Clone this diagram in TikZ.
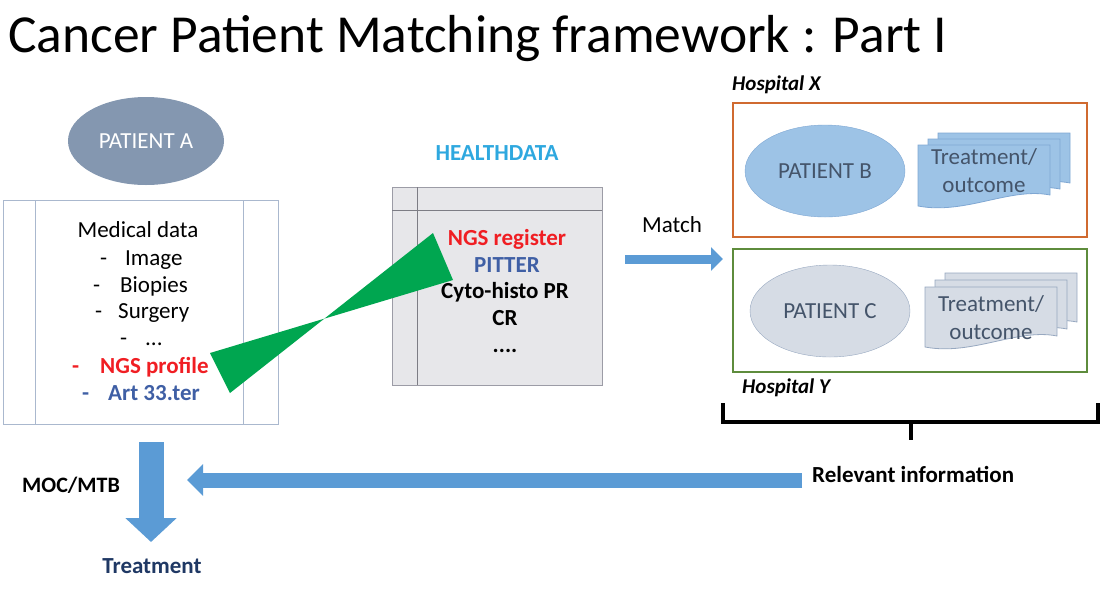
\documentclass[tikz,border=0pt]{standalone}
\usepackage{fontspec}
\setmainfont{Carlito}
\usetikzlibrary{arrows.meta,shapes.geometric}

\definecolor{patA}{HTML}{8497B0}
\definecolor{patB}{HTML}{9DC3E6}
\definecolor{patBline}{HTML}{7FA7D3}
\definecolor{patC}{HTML}{D6DCE5}
\definecolor{patCline}{HTML}{97A8C0}
\definecolor{slate}{HTML}{44546A}
\definecolor{arrowblue}{HTML}{5B9BD5}
\definecolor{ngsgreen}{HTML}{00A650}
\definecolor{hdcyan}{HTML}{2EA8DF}
\definecolor{hdfill}{HTML}{E7E7EA}
\definecolor{hdline}{HTML}{9C9CA6}
\definecolor{medline}{HTML}{AAB8CE}
\definecolor{ngsred}{HTML}{F01E23}
\definecolor{artblue}{HTML}{3F5FA5}
\definecolor{hospX}{HTML}{D06A30}
\definecolor{hospY}{HTML}{5E8C3C}
\definecolor{treatblue}{HTML}{1F3864}

\begin{document}
\begin{tikzpicture}[x=1pt,y=-1pt]
    \tikzstyle{every node}+=[inner sep=0pt]
    \tikzstyle{txt}=[font=\fontsize{23}{28}\selectfont, anchor=base]
    \tikzstyle{txtb}=[txt, font=\fontsize{23}{28}\selectfont\bfseries]
    \tikzstyle{txtred}=[txtb, ngsred]
    \tikzstyle{txtart}=[txtb, artblue]
    \tikzstyle{hosp}=[anchor=base west, font=\fontsize{21}{26}\selectfont\bfseries\itshape]
    \tikzstyle{patient}=[ellipse, minimum width=160, minimum height=92, font=\fontsize{23}{28}\selectfont]
    \tikzstyle{bigarrow}=[arrowblue, line width=15pt, -{Triangle[width=31pt,length=16pt]}]
    \useasboundingbox (0,0) rectangle (1102,590);

    % title
    \node [anchor=base west, font=\fontsize{53.5}{64}\selectfont] (title) at (8,52) {Cancer Patient Matching framework : Part I};

    % patient A and medical data
    \node [patient, fill=patA, text=white, minimum width=156, minimum height=88] (patA) at (146,141) {PATIENT A};
    \draw [medline, line width=1pt] (3,200) rectangle (278,424);
    \draw [medline, line width=1pt] (35,200) -- (35,424);
    \draw [medline, line width=1pt] (243,200) -- (243,424);
    \node [txt] (meddata) at (138,237) {Medical data};
    \foreach \dx/\wx/\yy/\st/\t in {100/125/265/txt/Image, 93/120/292/txt/Biopies, 95/118/318/txt/Surgery, 120/145/345/txt/{...},
                                    72/100/373/txtred/{NGS profile}, 82/108/400/txtart/{Art 33.ter}}
    {
        \node [\st, anchor=base west] (dash-\yy) at (\dx,\yy) {-};
        \node [\st, anchor=base west] (item-\yy) at (\wx,\yy) {\t};
    }

    % healthdata register
    \node [txtb, hdcyan] (hdtitle) at (497,160) {HEALTHDATA};
    \draw [hdline, fill=hdfill, line width=1pt] (392,187) rectangle (602,385);
    \draw [hdline!80!black, line width=1pt] (392,210) -- (602,210);
    \draw [hdline!80!black, line width=1pt] (417,187) -- (417,385);
    \node [txtred] (ngsreg) at (507,245) {NGS register};
    \node [txtart] (pitter) at (507,272) {PITTER};
    \node [txtb] (cyto) at (505,298) {Cyto-histo PR};
    \node [txtb] (cr) at (505,325) {CR};
    \node [txtb] (dots) at (505,352) {....};

    % link NGS profile -> NGS register
    \fill [ngsgreen] (210,353) -- (453,280) -- (433,233) -- (230,393) -- cycle;

    % match
    \node [txt] (match) at (672,232) {Match};
    \coordinate (m1) at (625,259);
    \coordinate (m2) at (723,259);
    \draw [arrowblue, line width=9pt, -{Triangle[width=23pt,length=12pt]}] (m1) -- (m2);

    % hospital X
    \node [hosp] (hospX) at (732,90) {Hospital X};
    \draw [hospX, line width=1.5pt] (733,103) rectangle (1087,237);
    \node [patient, fill=patB, draw=patBline, text=slate] (patB) at (825,171) {PATIENT B};
    \foreach \s in {2,1,0}
        \filldraw [fill=patB, draw=patBline, line width=0.8pt, shift={(10*\s,-6*\s)}]
            (918,145) -- (1050,145) -- (1050,195) .. controls (1010,187) and (965,215) .. (918,206) -- cycle;
    \node [txt, text=slate, align=center, anchor=north] (outB) at (984,148) {Treatment/\\outcome};

    % hospital Y
    \draw [hospY, line width=1.5pt] (733,249) rectangle (1087,372);
    \node [patient, fill=patC, draw=patCline, text=slate] (patC) at (830,311) {PATIENT C};
    \foreach \s in {2,1,0}
        \filldraw [fill=patC, draw=patCline, line width=0.8pt, shift={(10*\s,-7*\s)}]
            (925,287) -- (1057,287) -- (1057,336) .. controls (1017,328) and (972,356) .. (925,347) -- cycle;
    \node [txt, text=slate, align=center, anchor=north] (outC) at (991,295) {Treatment/\\outcome};
    \node [hosp] (hospY) at (742,393) {Hospital Y};

    % bracket over the hospitals
    \draw [line width=4pt] (723,403) -- (723,422) -- (1098,422) -- (1098,403);
    \draw [line width=4pt] (911,422) -- (911,440);

    % relevant information back to MOC/MTB
    \node [txtb, anchor=base west] (relinfo) at (812,482) {Relevant information};
    \coordinate (r1) at (802,480);
    \coordinate (r2) at (187,480);
    \draw [bigarrow] (r1) -- (r2);
    \node [txtb, font=\fontsize{22}{27}\selectfont\bfseries, anchor=base west] (moc) at (22,492) {MOC/MTB};
    \coordinate (t1) at (151,442);
    \coordinate (t2) at (151,542);
    \draw [arrowblue, line width=25pt, -{Triangle[width=50pt,length=24pt]}] (t1) -- (t2);
    \node [txtb, treatblue] (treat) at (152,573) {Treatment};
\end{tikzpicture}
\end{document}
